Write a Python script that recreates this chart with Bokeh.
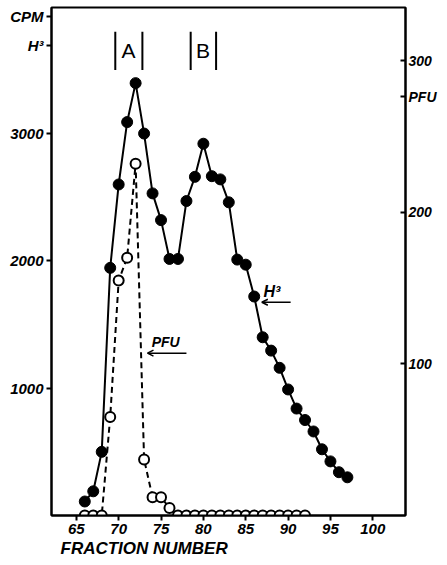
from bokeh.plotting import figure
from bokeh.models import Range1d, LinearAxis, FixedTicker, Label, Arrow, OpenHead, Title
from bokeh.embed import file_html
from bokeh.resources import INLINE

# H3 counts (CPM) per fraction
h3_fraction = list(range(66, 98))
h3_cpm = [110, 190, 500, 1945, 2600, 3090, 3396, 3000, 2530, 2320, 2015, 2015,
          2470, 2660, 2920, 2665, 2640, 2460, 2010, 1970, 1720, 1400, 1295, 1160,
          990, 840, 750, 660, 520, 425, 340, 300]

# PFU per fraction
pfu_fraction = list(range(66, 93))
pfu_values = [0, 0, 0, 65, 155, 170, 232, 37, 12, 12, 5, 0, 0, 0, 0, 0, 0, 0,
              0, 0, 0, 0, 0, 0, 0, 0, 0]

x_ticks = [65, 70, 75, 80, 85, 90, 95, 100]
cpm_ticks = [1000, 2000, 3000]
pfu_ticks = [100, 200, 300]

# axis titles, placed beside the top of each axis
cpm_title_pos = {3923: "CPM", 3688: "H³"}
pfu_title_pos = {276: "PFU"}

# peak markers |A| and |B|
peak_names = ["A", "B"]
peak_centers = [71.15, 79.95]
peak_left = [69.6, 78.5]
peak_right = [72.8, 81.5]
peak_bottom = 3500
peak_top = 3800

FONT = "Liberation Sans"

p = figure(width=439, height=557, output_backend="svg", toolbar_location=None,
           x_range=Range1d(62.07, 103.86), y_range=Range1d(0, 3990),
           min_border_left=51, min_border_right=31, min_border_top=7,
           min_border_bottom=41)
p.extra_y_ranges = {"pfu": Range1d(0, 335)}
p.xgrid.visible = False
p.ygrid.visible = False
p.outline_line_color = "black"
p.outline_line_width = 2
p.background_fill_color = "white"
p.border_fill_color = "white"

def style_axis(ax, ticks, out=5, inn=0, size="14px"):
    ax.ticker = FixedTicker(ticks=ticks)
    ax.axis_line_width = 2
    ax.axis_line_color = "black"
    ax.major_tick_line_width = 2
    ax.major_tick_line_color = "black"
    ax.major_tick_out = out
    ax.major_tick_in = inn
    ax.minor_tick_line_color = None
    ax.major_label_text_font = FONT
    ax.major_label_text_font_style = "bold italic"
    ax.major_label_text_font_size = size
    ax.major_label_text_color = "black"
    ax.major_label_standoff = 3

style_axis(p.xaxis[0], x_ticks, out=5, size="15px")
style_axis(p.yaxis[0], cpm_ticks + list(cpm_title_pos), out=5, size="15px")
p.yaxis[0].major_label_overrides = cpm_title_pos
right = LinearAxis(y_range_name="pfu")
style_axis(right, pfu_ticks + list(pfu_title_pos), out=0, inn=5, size="14px")
right.major_label_overrides = pfu_title_pos
p.add_layout(right, "right")

# H3 curve
p.line(h3_fraction, h3_cpm, line_color="black", line_width=2)
p.scatter(h3_fraction, h3_cpm, marker="circle", size=11, fill_color="black",
          line_color="black")

# PFU curve
p.line(pfu_fraction, pfu_values, line_color="black", line_width=2,
       line_dash="6 4", y_range_name="pfu")
p.scatter(pfu_fraction, pfu_values, marker="circle", size=10, fill_color="white",
          line_color="black", line_width=2, y_range_name="pfu")

# peak brackets
p.segment(x0=peak_left + peak_right, y0=[peak_bottom] * 4,
          x1=peak_left + peak_right, y1=[peak_top] * 4,
          line_color="black", line_width=2)
for name, cx in zip(peak_names, peak_centers):
    p.add_layout(Label(x=cx, y=(peak_bottom + peak_top) / 2, text=name,
                       text_align="center", text_baseline="middle",
                       text_font=FONT, text_font_size="21px", text_color="black"))

# curve annotations
p.add_layout(Label(x=73.9, y=1300, text="PFU", text_font=FONT, text_color="black",
                   text_font_style="bold italic", text_font_size="14px",
                   text_baseline="bottom"))
p.add_layout(Arrow(end=OpenHead(size=6, line_width=1.5), x_start=78.0, y_start=1275,
                   x_end=73.4, y_end=1275, line_width=1.5))
p.add_layout(Label(x=87.1, y=1690, text="H³", text_font=FONT, text_color="black",
                   text_font_style="bold italic", text_font_size="16px",
                   text_baseline="bottom"))
p.add_layout(Arrow(end=OpenHead(size=6, line_width=1.5), x_start=90.3, y_start=1675,
                   x_end=86.9, y_end=1675, line_width=1.5))

p.add_layout(Title(text="FRACTION  NUMBER", align="left", offset=9,
                   text_font=FONT, text_font_style="bold italic", text_color="black",
                   text_font_size="17px", standoff=0), "below")

open("out.html", "w").write(file_html(p, INLINE))
